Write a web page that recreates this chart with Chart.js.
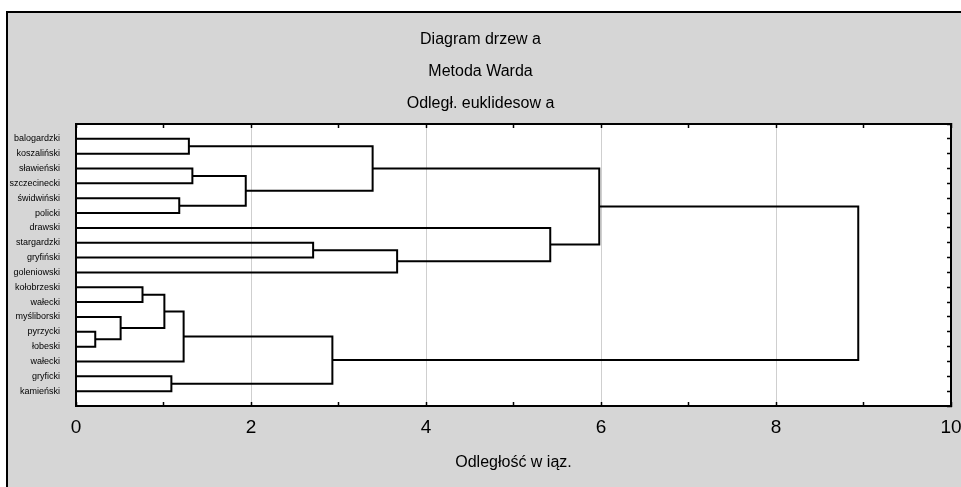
<!DOCTYPE html>
<html><head><meta charset="utf-8">
<script src="https://cdn.jsdelivr.net/npm/chart.js@4"></script>
<style>html,body{margin:0;padding:0;background:#fff;overflow:hidden}</style>
</head><body>
<canvas id="c" width="961" height="487" style="display:block;width:961px;height:487px"></canvas>
<script>
// ---- data ----
const leafNames = ['balogardzki','koszaliński','sławieński','szczecinecki','świdwiński','policki','drawski','stargardzki','gryfiński','goleniowski','kołobrzeski','wałecki','myśliborski','pyrzycki','łobeski','wałecki','gryficki','kamieński'];
// merges: node ids 0..17 are leaves, each merge k creates node 18+k
const mergeLeft   = [13, 12, 10, 20, 16, 4, 21, 0, 2, 26, 7, 24, 25, 28, 6, 30, 33];
const mergeRight  = [14, 18, 11, 19, 17, 5, 15, 1, 3, 23, 8, 22, 27, 9, 31, 32, 29];
const mergeHeight = [0.22, 0.51, 0.76, 1.01, 1.09, 1.18, 1.23, 1.29, 1.33, 1.94, 2.71, 2.93, 3.39, 3.67, 5.42, 5.98, 8.94];
const xTickLabels = [0, 2, 4, 6, 8, 10];
const titleLines = ['Diagram drzew a', 'Metoda Warda', 'Odległ. euklidesow a'];
const xAxisTitle = 'Odległość w iąz.';

// ---- fonts ----
function hasFont(name){
  const c = document.createElement('canvas').getContext('2d');
  c.font = '40px monospace'; const w1 = c.measureText('szczecinecki').width;
  c.font = '40px "' + name + '", monospace'; const w2 = c.measureText('szczecinecki').width;
  return w1 !== w2;
}
const narrow = hasFont('Liberation Sans Narrow');
const leafFont = narrow ? {family: '"Liberation Sans Narrow", "Liberation Sans", sans-serif', size: 11}
                        : {family: '"Liberation Sans", Arial, sans-serif', size: 9};
Chart.defaults.font.family = '"Liberation Sans", Arial, sans-serif';
Chart.defaults.color = '#000';

// ---- build dendrogram links ----
const nodeY = leafNames.map((_, i) => i + 1);
const nodeH = leafNames.map(() => 0);
const datasets = mergeHeight.map((h, k) => {
  const a = mergeLeft[k], b = mergeRight[k];
  nodeY.push((nodeY[a] + nodeY[b]) / 2);
  nodeH.push(h);
  return {
    data: [{x: nodeH[a], y: nodeY[a]}, {x: h, y: nodeY[a]}, {x: h, y: nodeY[b]}, {x: nodeH[b], y: nodeY[b]}],
    showLine: true, borderColor: '#000', borderWidth: 2, pointRadius: 0,
    fill: false, tension: 0, borderJoinStyle: 'miter', clip: false
  };
});

const bgPlugin = {
  id: 'bg',
  beforeDraw(chart){
    const {ctx, width, height, chartArea: ca} = chart;
    ctx.save();
    ctx.fillStyle = '#fff'; ctx.fillRect(0, 0, width, height);
    ctx.fillStyle = '#d6d6d6'; ctx.fillRect(6, 11, width - 6, height - 11);
    ctx.fillStyle = '#000';
    ctx.fillRect(6, 11, 2, height - 11);
    ctx.fillRect(6, 11, width - 6, 2);
    ctx.fillStyle = '#fff'; ctx.fillRect(ca.left, ca.top, ca.right - ca.left, ca.bottom - ca.top);
    ctx.restore();
  }
};

const noPad = s => { s.paddingLeft = 0; s.paddingRight = 0; };
const border = {display: true, color: '#000', width: 2};
new Chart(document.getElementById('c'), {
  type: 'scatter',
  data: {datasets},
  plugins: [bgPlugin],
  options: {
    responsive: false, animation: false, devicePixelRatio: 1,
    layout: {padding: 0, autoPadding: false},
    events: [],
    plugins: {
      legend: {display: false}, tooltip: {enabled: false},
      title: {display: true, text: titleLines, color: '#000',
        font: {size: 16, weight: 'normal', lineHeight: 2}, padding: {top: 24, bottom: 0}}
    },
    scales: {
      x: {
        type: 'linear', position: 'bottom', min: 0, max: 10,
        afterFit: s => { s.height = 81; noPad(s); },
        border,
        grid: {
          color: c => (c.tick && c.tick.value % 2 === 0 && c.tick.value > 0 && c.tick.value < 10) ? '#cfcfcf' : 'rgba(0,0,0,0)',
          tickColor: '#000', tickLength: -4, lineWidth: 1, tickWidth: 1.5
        },
        ticks: {stepSize: 1, autoSkip: false, maxRotation: 0, padding: 14, color: '#000',
          font: {size: 19},
          callback: v => xTickLabels.includes(v) ? String(v) : ''},
        title: {display: true, text: xAxisTitle, color: '#000', font: {size: 16}, padding: {top: 10, bottom: 15}}
      },
      x2: {
        type: 'linear', position: 'top', min: 0, max: 10,
        afterFit: s => { s.height = 4; noPad(s); },
        border,
        grid: {drawOnChartArea: false, tickColor: '#000', tickLength: -4, tickWidth: 1.5},
        ticks: {display: false, stepSize: 1, autoSkip: false}
      },
      y: {
        type: 'linear', position: 'left', min: 0, max: 19, reverse: true,
        afterFit: s => { s.width = 76; s.paddingTop = 0; s.paddingBottom = 0; },
        border,
        grid: {display: false},
        ticks: {stepSize: 1, autoSkip: false, padding: 8, color: '#000', font: leafFont,
          callback: v => leafNames[v - 1] || ''}
      },
      y2: {
        type: 'linear', position: 'right', min: 0, max: 19, reverse: true,
        afterFit: s => { s.width = 10; s.paddingTop = 0; s.paddingBottom = 0; },
        border,
        grid: {drawOnChartArea: false, tickColor: '#000', tickLength: -4, tickWidth: 1.5},
        ticks: {display: false, stepSize: 1, autoSkip: false}
      }
    }
  }
});
</script>
</body></html>
